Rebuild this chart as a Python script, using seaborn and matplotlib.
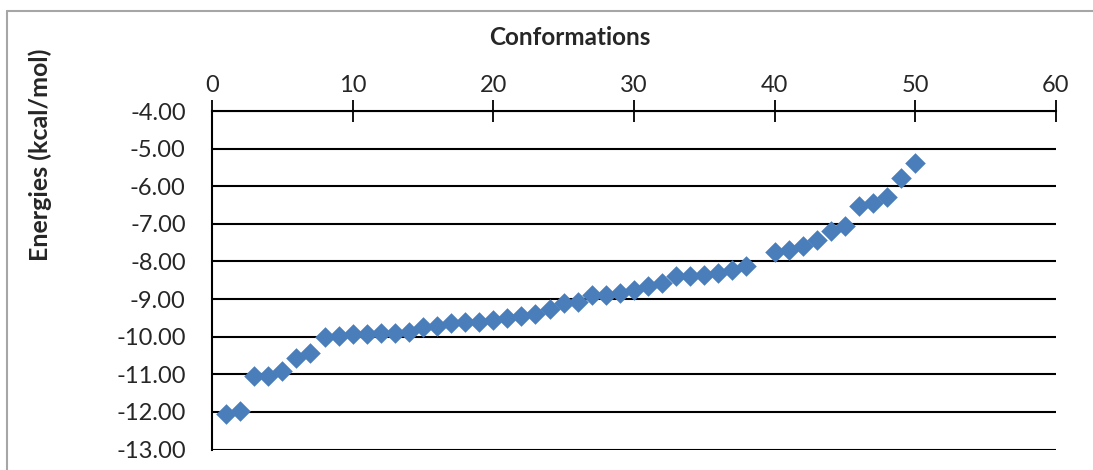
import matplotlib
matplotlib.use('Agg')
import matplotlib.pyplot as plt
import matplotlib.lines as mlines
import numpy as np
import pandas as pd
import seaborn as sns

# conformation index (39 is missing in the source)
conformations = list(range(1, 39)) + list(range(40, 51))
energies = [
    -12.05, -11.97, -11.04, -11.04, -10.90, -10.58, -10.44, -10.00, -9.99, -9.94,
    -9.93, -9.90, -9.90, -9.87, -9.73, -9.72, -9.64, -9.62, -9.60, -9.56,
    -9.51, -9.46, -9.41, -9.27, -9.11, -9.07, -8.89, -8.89, -8.84, -8.77,
    -8.66, -8.56, -8.40, -8.39, -8.35, -8.31, -8.22, -8.13,
    -7.75, -7.69, -7.60, -7.42, -7.20, -7.05, -6.53, -6.44, -6.29, -5.77, -5.39,
]
x_ticks = [0, 10, 20, 30, 40, 50, 60]
y_ticks = [-13, -12, -11, -10, -9, -8, -7, -6, -5, -4]

df = pd.DataFrame({'conformation': conformations, 'energy': energies})

sns.set_theme(style="white")
plt.rcParams['font.family'] = ['Lato', 'DejaVu Sans']

fig = plt.figure(figsize=[10.93, 4.70], dpi=100)
ax = fig.add_axes([0.194, 0.0436, 0.772, 0.7202])

sns.scatterplot(data=df, x='conformation', y='energy', marker='D', s=110,
                color='#4A7EBB', linewidth=0, ax=ax, zorder=3)

ax.set_xlim(0, 60)
ax.set_ylim(-13, -4)
ax.set_xticks(x_ticks)
ax.set_yticks(y_ticks)
ax.set_yticklabels([f'{v:.2f}' for v in y_ticks])
ax.xaxis.tick_top()
ax.tick_params(axis='x', direction='inout', length=16, width=1.3, color='black',
               labelsize=17, pad=3, top=True, bottom=False)
ax.tick_params(axis='y', length=0, labelsize=17, pad=19)
for y in y_ticks:
    ax.axhline(y, color='black', linewidth=1.5, zorder=1)

for side in ['right', 'bottom']:
    ax.spines[side].set_visible(False)
ax.spines['left'].set_color('black')
ax.spines['left'].set_linewidth(1.5)
ax.spines['top'].set_color('black')
ax.spines['top'].set_linewidth(1.5)
ax.set_xlabel('')
ax.set_ylabel('')

fig.text(0.5215, 0.921, 'Conformations', ha='center', va='center',
         fontsize=17.5, fontweight='bold')
fig.text(0.0366, 0.67, 'Energies (kcal/mol)', ha='center', va='center',
         rotation=90, fontsize=18, fontweight='bold')

# outer chart-area border
border = '#A6A6A6'
fig.add_artist(mlines.Line2D([7 / 1093, 1.0], [1 - 11 / 470, 1 - 11 / 470],
                             transform=fig.transFigure, color=border, linewidth=1.5))
fig.add_artist(mlines.Line2D([7 / 1093, 7 / 1093], [0.0, 1 - 11 / 470],
                             transform=fig.transFigure, color=border, linewidth=1.5))

plt.savefig('out.png', dpi=100)
